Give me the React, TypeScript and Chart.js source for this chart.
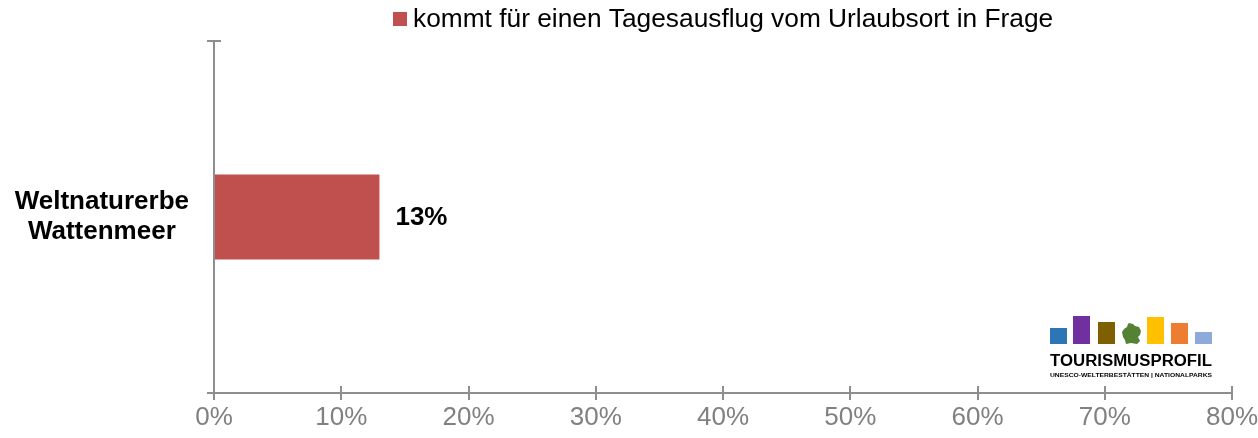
import React, { useEffect, useRef } from "react";
import { Chart, registerables } from "chart.js";

Chart.register(...registerables);

const categories: string[][] = [["Weltnaturerbe", "Wattenmeer"]];
const seriesLabel = "kommt für einen Tagesausflug vom Urlaubsort in Frage";
const values: number[] = [13];
const xMin = 0;
const xMax = 80;
const xStep = 10;
const tickSuffix = "%";
const logoTitle = "TOURISMUSPROFIL";
const logoSubtitle = "UNESCO-WELTERBESTÄTTEN | NATIONALPARKS";

const BAR_COLOR = "#c0504d";
const AXIS_COLOR = "#8e8e8e";
const FONT = "Arial, 'Liberation Sans', sans-serif";

const innerTicksPlugin = {
  id: "innerTicks",
  afterDraw(chart: any) {
    const ctx = chart.ctx;
    const x = chart.scales.x;
    const y = chart.scales.y;
    const ca = chart.chartArea;
    ctx.save();
    ctx.strokeStyle = AXIS_COLOR;
    ctx.lineWidth = 2;
    ctx.beginPath();
    x.ticks.forEach((_t: any, i: number) => {
      const px = Math.round(x.getPixelForTick(i));
      ctx.moveTo(px, ca.bottom - 7);
      ctx.lineTo(px, ca.bottom);
    });
    const topY = Math.round(y.getPixelForValue(-0.5));
    ctx.moveTo(ca.left, topY);
    ctx.lineTo(ca.left + 7, topY);
    ctx.stroke();
    ctx.restore();
  },
};

const valueLabelPlugin = {
  id: "valueLabels",
  afterDatasetsDraw(chart: any) {
    const ctx = chart.ctx;
    const meta = chart.getDatasetMeta(0);
    ctx.save();
    ctx.font = `bold 26px ${FONT}`;
    ctx.fillStyle = "#000000";
    ctx.textAlign = "left";
    ctx.textBaseline = "middle";
    meta.data.forEach((bar: any, i: number) => {
      const v = chart.data.datasets[0].data[i];
      ctx.fillText(`${v}%`, bar.x + 16, bar.y + 1);
    });
    ctx.restore();
  },
};

const customLegendPlugin = {
  id: "customLegend",
  afterDraw(chart: any) {
    const ctx = chart.ctx;
    const ca = chart.chartArea;
    const ds = chart.data.datasets[0];
    ctx.save();
    ctx.font = `26.3px ${FONT}`;
    const tw = ctx.measureText(ds.label).width;
    const box = 14;
    const gap = 6;
    const total = box + gap + tw;
    const cx = (ca.left + ca.right) / 2;
    const x0 = Math.round(cx - total / 2);
    ctx.fillStyle = ds.backgroundColor;
    ctx.fillRect(x0, 12, box, box);
    ctx.fillStyle = "#000000";
    ctx.textAlign = "left";
    ctx.textBaseline = "alphabetic";
    ctx.fillText(ds.label, x0 + box + gap, 27);
    ctx.restore();
  },
};

function fillStretched(ctx: any, text: string, x: number, y: number, width: number) {
  const w = ctx.measureText(text).width;
  ctx.save();
  ctx.translate(x, y);
  ctx.scale(width / w, 1);
  ctx.fillText(text, 0, 0);
  ctx.restore();
}

const logoPlugin = {
  id: "logo",
  afterDraw(chart: any) {
    const ctx = chart.ctx;
    const ca = chart.chartArea;
    const right = ca.right - 20;
    const left = right - 162;
    const base = ca.bottom - 49;
    ctx.save();
    const bars: [number, number, string][] = [
      [0, 16, "#2e75b6"],
      [23, 28, "#7030a0"],
      [48, 22, "#7f6000"],
      [97, 27, "#ffc000"],
      [121, 21, "#ed7d31"],
      [145, 12, "#8eaadb"],
    ];
    bars.forEach(([dx, h, c]) => {
      ctx.fillStyle = c;
      ctx.fillRect(left + dx, base - h, 17, h);
    });
    const gx = left + 71;
    const gy = base - 21;
    const pts = [
      [8, 0], [12, 1], [14, 3], [18, 4], [20, 8], [19, 12], [17, 14], [19, 18],
      [16, 21], [10, 20], [5, 21], [4, 17], [2, 14], [1, 9], [3, 6], [6, 4], [7, 1],
    ];
    ctx.fillStyle = "#548235";
    ctx.beginPath();
    pts.forEach(([px, py], i) => {
      if (i === 0) ctx.moveTo(gx + px, gy + py);
      else ctx.lineTo(gx + px, gy + py);
    });
    ctx.closePath();
    ctx.fill();
    ctx.fillStyle = "#000000";
    ctx.textAlign = "left";
    ctx.textBaseline = "alphabetic";
    ctx.font = `900 16px ${FONT}`;
    fillStretched(ctx, logoTitle, left, base + 22, 162);
    ctx.font = `bold 6px ${FONT}`;
    fillStretched(ctx, logoSubtitle, left, base + 33, 162);
    ctx.restore();
  },
};

export default function App() {
  const canvasRef = useRef<HTMLCanvasElement | null>(null);

  useEffect(() => {
    if (!canvasRef.current) return;
    const chart = new Chart(canvasRef.current, {
      type: "bar",
      data: {
        labels: categories,
        datasets: [
          {
            label: seriesLabel,
            data: values,
            backgroundColor: BAR_COLOR,
            borderWidth: 0,
            categoryPercentage: 1,
            barPercentage: 0.2415,
          },
        ],
      },
      options: {
        indexAxis: "y",
        responsive: false,
        animation: false,
        devicePixelRatio: 1,
        layout: { padding: { top: 41, right: 26, bottom: 0, left: 0 } },
        plugins: {
          legend: { display: false },
          tooltip: { enabled: false },
        },
        scales: {
          x: {
            type: "linear",
            min: xMin,
            max: xMax,
            ticks: {
              stepSize: xStep,
              color: "#808080",
              font: { family: FONT, size: 26 },
              padding: 2,
              callback: (v: any) => `${v}${tickSuffix}`,
            },
            grid: {
              display: true,
              drawOnChartArea: false,
              drawTicks: true,
              tickLength: 7,
              color: AXIS_COLOR,
              lineWidth: 2,
            },
            border: { display: true, color: AXIS_COLOR, width: 2 },
            afterFit: (s: any) => {
              s.height = 45;
              s.paddingLeft = 0;
              s.paddingRight = 0;
            },
          },
          y: {
            type: "category",
            offset: true,
            ticks: {
              color: "#000000",
              font: { family: FONT, size: 26, weight: "bold", lineHeight: 1.15 },
              crossAlign: "center",
              padding: 18,
            },
            grid: {
              display: true,
              drawOnChartArea: false,
              drawTicks: true,
              tickLength: 7,
              offset: true,
              color: AXIS_COLOR,
              lineWidth: 2,
            },
            border: { display: true, color: AXIS_COLOR, width: 2 },
            afterFit: (s: any) => {
              s.width = 214;
              s.paddingTop = 0;
              s.paddingBottom = 0;
            },
          },
        },
      },
      plugins: [innerTicksPlugin, valueLabelPlugin, customLegendPlugin, logoPlugin],
    });
    return () => chart.destroy();
  }, []);

  return (
    <div style={{ position: "absolute", left: 0, top: 0, width: 1258, height: 438, background: "#ffffff" }}>
      <canvas ref={canvasRef} width={1258} height={438} style={{ width: 1258, height: 438 }} />
    </div>
  );
}
